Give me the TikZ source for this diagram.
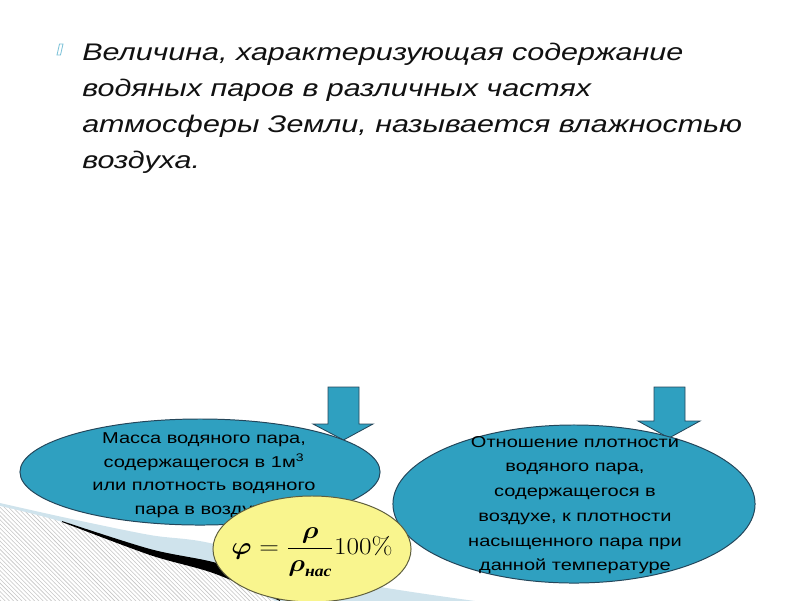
\documentclass[tikz,border=0pt]{standalone}
\usepackage{amsmath}
\usepackage{graphicx}
\usepackage[no-math]{fontspec}
\setmainfont{Liberation Sans}[FakeStretch=1.27]
\newfontfamily\formulafont{Liberation Serif}
\usepackage{xcolor}
\usepackage{tikz}
\usetikzlibrary{
    shapes.geometric,
    patterns
}

\definecolor{teal}{HTML}{2FA0C0}
\definecolor{tealline}{HTML}{24465A}
\definecolor{softyellow}{HTML}{F9F58E}
\definecolor{yellowline}{HTML}{5E5E3E}
\definecolor{bandblue}{HTML}{CFE3EC}
\definecolor{bulletblue}{HTML}{7CC2D8}
\definecolor{titletext}{HTML}{111111}

\begin{document}
\begin{tikzpicture}[
        x=0.025cm, y=-0.025cm,
        oval/.style={
            ellipse,
            draw=tealline,
            fill=teal,
            line width=0.7pt,
            inner sep=0pt
        },
        caption/.style={
            align=center,
            inner sep=0pt,
            text=black,
            font=\fontsize{11.2}{16.7}\selectfont
        },
        formulaoval/.style={
            ellipse,
            draw=yellowline,
            fill=softyellow,
            line width=0.7pt,
            inner sep=0pt,
            minimum width=4.95cm,
            minimum height=2.65cm
        },
        downarrow/.style={
            fill=teal,
            draw=tealline,
            line width=0.6pt,
            line join=miter
        }
    ]

    \useasboundingbox (0,0) rectangle (800,600);

    % swoosh at the bottom
    \fill[bandblue] plot[smooth] coordinates
        {(0,503) (67,518) (150,535) (205,542) (300,565) (370,585) (475,601)}
        -- (0,601) -- cycle;
    \path[preaction={fill=white}, pattern=north west lines, pattern color=gray!45]
        plot[smooth] coordinates {(0,506) (62,522) (150,554) (213,572) (275,601)}
        -- (0,601) -- cycle;
    \fill[black] plot[smooth] coordinates
        {(62,521) (150,549) (213,562) (275,581)}
        -- plot[smooth] coordinates {(280,601) (213,573) (150,555) (62,522)}
        -- cycle;

    % arrows
    \draw[downarrow] (328,387) -- (359,387) -- (359,424) -- (373,424)
        -- (343.5,440) -- (313,424) -- (328,424) -- cycle;
    \draw[downarrow] (654,387) -- (685,387) -- (685,421) -- (700,421)
        -- (669,438) -- (638,421) -- (654,421) -- cycle;

    \node[oval, minimum width=9cm, minimum height=2.65cm] (absolute) at (200,472) {};
    \node[caption] (absolutetext) at (204,475)
        {Масса водяного пара,\\
         содержащегося в 1м\textsuperscript{3}\\
         или плотность водяного\\
         пара в воздухе};

    \node[oval, minimum width=9.05cm, minimum height=3.95cm] (relative) at (574,504) {};
    \node[caption, font=\fontsize{11.2}{17.6}\selectfont] (relativetext) at (575,505)
        {Отношение плотности\\
         водяного пара,\\
         содержащегося в\\
         воздухе, к плотности\\
         насыщенного пара при\\
         данной температуре};

    \node[formulaoval] (formula) at (312,549) {};
    \node[inner sep=0pt, font=\fontsize{16}{19}\selectfont] (phi) at (312,552)
        {\scalebox{1.12}[1]{$\displaystyle
            \boldsymbol{\varphi}=\frac{\boldsymbol{\rho}}
            {\boldsymbol{\rho}_{\text{\formulafont\bfseries\itshape нас}}}100\%$}};

    % heading
    \draw[bulletblue, line width=0.6pt] (57,55) -- (60.5,55) -- (63,44) -- (59.5,44) -- cycle;
    \node[anchor=base west, align=left, inner sep=0pt, text=titletext,
          font=\fontsize{17.07}{25.6}\selectfont\itshape] (heading) at (82,168)
        {Величина, характеризующая содержание\\
         водяных паров в различных частях\\
         атмосферы Земли, называется влажностью\\
         воздуха.};

\end{tikzpicture}
\end{document}
